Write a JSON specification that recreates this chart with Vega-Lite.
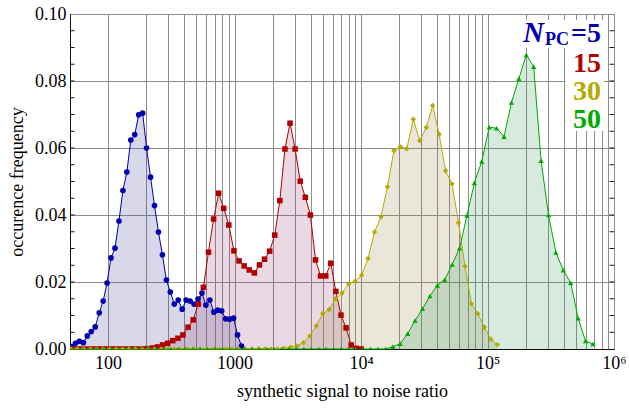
{
  "$schema": "https://vega.github.io/schema/vega-lite/v6.json",
  "width": 544,
  "height": 335,
  "autosize": {"type": "none"},
  "padding": {"left": 70, "top": 14, "right": 15, "bottom": 59},
  "background": "white",
  "config": {
    "view": {"stroke": "#111", "strokeWidth": 1},
    "font": "Liberation Serif"
  },
  "datasets": {
    "yticks": [{"t":0.005},{"t":0.01},{"t":0.015},{"t":0.02},{"t":0.025},{"t":0.03},{"t":0.035},{"t":0.04},{"t":0.045},{"t":0.05},{"t":0.055},{"t":0.06},{"t":0.065},{"t":0.07},{"t":0.075},{"t":0.08},{"t":0.085},{"t":0.09},{"t":0.095}]
  },
  "data": {"values": [
    {"s":"5","x":51.4,"y":0.0007},{"s":"5","x":55.2,"y":0.0017},{"s":"5","x":59.3,"y":0.0023},{"s":"5","x":63.8,"y":0.0019},
    {"s":"5","x":68.5,"y":0.0039},{"s":"5","x":73.6,"y":0.0052},{"s":"5","x":79.1,"y":0.0066},{"s":"5","x":85.1,"y":0.0108},
    {"s":"5","x":91.4,"y":0.0143},{"s":"5","x":98.2,"y":0.0197},{"s":"5","x":105.5,"y":0.0272},{"s":"5","x":113.4,"y":0.0301},
    {"s":"5","x":121.9,"y":0.0382},{"s":"5","x":131.0,"y":0.0473},{"s":"5","x":140.7,"y":0.0528},{"s":"5","x":151.2,"y":0.0624},
    {"s":"5","x":162.5,"y":0.0640},{"s":"5","x":174.6,"y":0.0699},{"s":"5","x":187.6,"y":0.0704},{"s":"5","x":201.6,"y":0.0600},
    {"s":"5","x":216.7,"y":0.0513},{"s":"5","x":232.9,"y":0.0428},{"s":"5","x":250.3,"y":0.0349},{"s":"5","x":268.9,"y":0.0281},
    {"s":"5","x":289.0,"y":0.0206},{"s":"5","x":310.6,"y":0.0170},{"s":"5","x":333.8,"y":0.0134},{"s":"5","x":358.6,"y":0.0146},
    {"s":"5","x":385.4,"y":0.0119},{"s":"5","x":414.2,"y":0.0146},{"s":"5","x":445.1,"y":0.0143},{"s":"5","x":478.2,"y":0.0134},
    {"s":"5","x":514.0,"y":0.0149},{"s":"5","x":552.3,"y":0.0167},{"s":"5","x":593.5,"y":0.0131},{"s":"5","x":637.8,"y":0.0146},
    {"s":"5","x":685.4,"y":0.0110},{"s":"5","x":736.5,"y":0.0116},{"s":"5","x":791.5,"y":0.0114},{"s":"5","x":850.5,"y":0.0090},
    {"s":"5","x":914.0,"y":0.0089},{"s":"5","x":982.0,"y":0.0092},{"s":"5","x":1055.3,"y":0.0042},{"s":"5","x":1134.1,"y":0.0009},

    {"s":"15","x":50.8,"y":0},{"s":"15","x":55.7,"y":0},{"s":"15","x":61.1,"y":0},{"s":"15","x":67.1,"y":0},
    {"s":"15","x":73.6,"y":0},{"s":"15","x":80.7,"y":0},{"s":"15","x":88.6,"y":0},{"s":"15","x":97.2,"y":0},
    {"s":"15","x":106.7,"y":0},{"s":"15","x":117.0,"y":0},{"s":"15","x":128.4,"y":0},{"s":"15","x":140.9,"y":0},
    {"s":"15","x":154.6,"y":0},{"s":"15","x":169.6,"y":0},{"s":"15","x":186.1,"y":0},{"s":"15","x":204.2,"y":0.0001},
    {"s":"15","x":224.1,"y":0.0003},{"s":"15","x":245.9,"y":0.0006},{"s":"15","x":269.8,"y":0.0012},{"s":"15","x":296.0,"y":0.0017},
    {"s":"15","x":324.8,"y":0.0025},{"s":"15","x":356.3,"y":0.0032},{"s":"15","x":391.0,"y":0.0042},{"s":"15","x":429.0,"y":0.0065},
    {"s":"15","x":470.7,"y":0.0087},{"s":"15","x":516.5,"y":0.0134},{"s":"15","x":566.7,"y":0.0184},{"s":"15","x":621.8,"y":0.0289},
    {"s":"15","x":682.3,"y":0.0388},{"s":"15","x":748.7,"y":0.0465},{"s":"15","x":821.5,"y":0.0420},{"s":"15","x":901.4,"y":0.0370},
    {"s":"15","x":989,"y":0.0293},{"s":"15","x":1085,"y":0.0263},{"s":"15","x":1191,"y":0.0248},{"s":"15","x":1307,"y":0.0236},
    {"s":"15","x":1434,"y":0.0227},{"s":"15","x":1573,"y":0.0251},{"s":"15","x":1726,"y":0.0268},{"s":"15","x":1894,"y":0.0292},
    {"s":"15","x":2078,"y":0.0340},{"s":"15","x":2280,"y":0.0443},{"s":"15","x":2502,"y":0.0597},{"s":"15","x":2745,"y":0.0674},
    {"s":"15","x":3012,"y":0.0597},{"s":"15","x":3305,"y":0.0501},{"s":"15","x":3626,"y":0.0453},{"s":"15","x":3979,"y":0.0400},
    {"s":"15","x":4365,"y":0.0266},{"s":"15","x":4790,"y":0.0218},{"s":"15","x":5255,"y":0.0218},{"s":"15","x":5767,"y":0.0256},
    {"s":"15","x":6327,"y":0.0172},{"s":"15","x":6942,"y":0.0101},{"s":"15","x":7618,"y":0.0063},{"s":"15","x":8358,"y":0.0012},
    {"s":"15","x":9171,"y":0.0002},{"s":"15","x":10062,"y":0},

    {"s":"30","x":50.7,"y":0},{"s":"30","x":57.0,"y":0},{"s":"30","x":64.1,"y":0},{"s":"30","x":72.1,"y":0},
    {"s":"30","x":81.1,"y":0},{"s":"30","x":91.2,"y":0},{"s":"30","x":102.6,"y":0},{"s":"30","x":115.5,"y":0},
    {"s":"30","x":129.9,"y":0},{"s":"30","x":146.1,"y":0},{"s":"30","x":164.3,"y":0},{"s":"30","x":184.9,"y":0},
    {"s":"30","x":207.9,"y":0},{"s":"30","x":233.9,"y":0},{"s":"30","x":263.1,"y":0},{"s":"30","x":296.0,"y":0},
    {"s":"30","x":332.9,"y":0},{"s":"30","x":374.5,"y":0},{"s":"30","x":421.2,"y":0},{"s":"30","x":473.8,"y":0},
    {"s":"30","x":533.0,"y":0},{"s":"30","x":599.6,"y":0},{"s":"30","x":674.4,"y":0},{"s":"30","x":758.6,"y":0},
    {"s":"30","x":853.3,"y":0},{"s":"30","x":959.8,"y":0},{"s":"30","x":1080,"y":0},{"s":"30","x":1214,"y":0},
    {"s":"30","x":1366,"y":0},{"s":"30","x":1537,"y":0},{"s":"30","x":1729,"y":0},{"s":"30","x":1944,"y":0},
    {"s":"30","x":2187,"y":0},{"s":"30","x":2460,"y":0.0002},
    {"s":"30","x":2768,"y":0.0005},{"s":"30","x":3113,"y":0.0009},{"s":"30","x":3502,"y":0.0019},{"s":"30","x":3939,"y":0.0039},
    {"s":"30","x":4431,"y":0.0069},{"s":"30","x":4984,"y":0.0106},{"s":"30","x":5607,"y":0.0118},{"s":"30","x":6307,"y":0.0150},
    {"s":"30","x":7094,"y":0.0167},{"s":"30","x":7980,"y":0.0195},{"s":"30","x":8977,"y":0.0202},{"s":"30","x":10097,"y":0.0220},
    {"s":"30","x":11358,"y":0.0270},{"s":"30","x":12776,"y":0.0349},{"s":"30","x":14372,"y":0.0395},{"s":"30","x":16166,"y":0.0484},
    {"s":"30","x":18185,"y":0.0592},{"s":"30","x":20456,"y":0.0604},{"s":"30","x":23011,"y":0.0598},{"s":"30","x":25882,"y":0.0686},
    {"s":"30","x":29114,"y":0.0622},{"s":"30","x":32749,"y":0.0661},{"s":"30","x":36838,"y":0.0727},{"s":"30","x":41438,"y":0.0641},
    {"s":"30","x":46613,"y":0.0532},{"s":"30","x":52433,"y":0.0493},{"s":"30","x":58980,"y":0.0377},{"s":"30","x":66345,"y":0.0247},
    {"s":"30","x":74628,"y":0.0135},{"s":"30","x":83946,"y":0.0105},{"s":"30","x":94430,"y":0.0065},{"s":"30","x":106220,"y":0.0029},
    {"s":"30","x":119480,"y":0.0013},

    {"s":"50","x":53.9,"y":0},{"s":"50","x":61.7,"y":0},{"s":"50","x":70.6,"y":0},{"s":"50","x":80.8,"y":0},
    {"s":"50","x":92.5,"y":0},{"s":"50","x":106,"y":0},{"s":"50","x":121,"y":0},{"s":"50","x":139,"y":0},
    {"s":"50","x":159,"y":0},{"s":"50","x":182,"y":0},{"s":"50","x":208,"y":0},{"s":"50","x":238,"y":0},
    {"s":"50","x":272,"y":0},{"s":"50","x":312,"y":0},{"s":"50","x":357,"y":0},{"s":"50","x":408,"y":0},
    {"s":"50","x":467,"y":0},{"s":"50","x":535,"y":0},{"s":"50","x":612,"y":0},{"s":"50","x":700,"y":0},
    {"s":"50","x":801,"y":0},{"s":"50","x":917,"y":0},{"s":"50","x":1050,"y":0},{"s":"50","x":1201,"y":0},
    {"s":"50","x":1375,"y":0},{"s":"50","x":1573,"y":0},{"s":"50","x":1800,"y":0},{"s":"50","x":2061,"y":0},
    {"s":"50","x":2358,"y":0},{"s":"50","x":2699,"y":0},{"s":"50","x":3089,"y":0},{"s":"50","x":3535,"y":0},
    {"s":"50","x":4046,"y":0},{"s":"50","x":4630,"y":0},{"s":"50","x":5299,"y":0},{"s":"50","x":6064,"y":0},
    {"s":"50","x":6940,"y":0},{"s":"50","x":7943,"y":0},{"s":"50","x":9090,"y":0},{"s":"50","x":10404,"y":0},
    {"s":"50","x":11907,"y":0},{"s":"50","x":13627,"y":0},{"s":"50","x":15596,"y":0},
    {"s":"50","x":17850,"y":0.0007},{"s":"50","x":20425,"y":0.0016},{"s":"50","x":23380,"y":0.0046},{"s":"50","x":26755,"y":0.0085},
    {"s":"50","x":30620,"y":0.0120},{"s":"50","x":35040,"y":0.0158},{"s":"50","x":40101,"y":0.0190},{"s":"50","x":45890,"y":0.0207},
    {"s":"50","x":52529,"y":0.0252},{"s":"50","x":60117,"y":0.0301},{"s":"50","x":68803,"y":0.0399},{"s":"50","x":78741,"y":0.0496},
    {"s":"50","x":90116,"y":0.0560},{"s":"50","x":103130,"y":0.0662},{"s":"50","x":118030,"y":0.0659},{"s":"50","x":135080,"y":0.0634},
    {"s":"50","x":154590,"y":0.0736},{"s":"50","x":176920,"y":0.0807},{"s":"50","x":202480,"y":0.0878},{"s":"50","x":231740,"y":0.0843},
    {"s":"50","x":265210,"y":0.0562},{"s":"50","x":303520,"y":0.0400},{"s":"50","x":347350,"y":0.0288},{"s":"50","x":397560,"y":0.0235},
    {"s":"50","x":454990,"y":0.0197},{"s":"50","x":520720,"y":0.0092},{"s":"50","x":595950,"y":0.0024},{"s":"50","x":682020,"y":0.0015}
  ]},
  "layer": [
    {
      "mark": {"type": "area", "fillOpacity": 0.2},
      "encoding": {
        "x": {"field": "x", "type": "quantitative", "scale": {"type": "log", "domain": [50, 1000000], "nice": false},
          "axis": {
            "values": [100,200,300,400,500,600,700,800,900,1000,2000,3000,4000,5000,6000,7000,8000,9000,10000,20000,30000,40000,50000,60000,70000,80000,90000,100000,200000,300000,400000,500000,600000,700000,800000,900000,1000000],
            "labelExpr": "datum.value == 100 ? '100' : datum.value == 1000 ? '1000' : datum.value == 10000 ? '10⁴' : datum.value == 100000 ? '10⁵' : datum.value == 1000000 ? '10⁶' : ''",
            "labelFlush": false, "labelOverlap": false, "labelFont": "Liberation Serif", "labelFontSize": 18, "labelColor": "#000", "labelPadding": 5,
            "ticks": false, "domain": true, "domainColor": "#111", "grid": true, "gridColor": "#8c8c8c", "gridWidth": 1,
            "title": "synthetic signal to noise ratio", "titleFont": "Liberation Serif", "titleFontSize": 18, "titleFontWeight": "normal", "titleColor": "#000", "titlePadding": 10
          }},
        "y": {"field": "y", "type": "quantitative", "stack": null, "scale": {"domain": [0, 0.1], "nice": false},
          "axis": {
            "orient": "left",
            "values": [0,0.02,0.04,0.06,0.08,0.1],
            "format": ".2f",
            "labelOverlap": false, "labelFont": "Liberation Serif", "labelFontSize": 18, "labelColor": "#000", "labelPadding": 4,
            "grid": true, "gridColor": "#8c8c8c", "gridWidth": 1,
            "ticks": false, "domain": true, "domainColor": "#111",
            "title": "occurence frequency", "titleFont": "Liberation Serif", "titleFontSize": 18, "titleFontWeight": "normal", "titleColor": "#000", "titlePadding": 8
          }},
        "fill": {"field": "s", "type": "nominal", "legend": null,
          "scale": {"domain": ["5","15","30","50"], "range": ["#3C3C96","#963C6E","#968246","#32965A"]}}
      }
    },
    {
      "mark": {"type": "line", "strokeWidth": 1},
      "encoding": {
        "x": {"field": "x", "type": "quantitative", "scale": {"type": "log", "domain": [50, 1000000], "nice": false}},
        "y": {"field": "y", "type": "quantitative", "scale": {"domain": [0, 0.1], "nice": false}},
        "stroke": {"field": "s", "type": "nominal", "legend": null,
          "scale": {"domain": ["5","15","30","50"], "range": ["#0000B0","#B00000","#B4AA00","#00AA00"]}}
      }
    },
    {
      "mark": {"type": "point", "filled": true, "opacity": 1, "clip": true},
      "encoding": {
        "x": {"field": "x", "type": "quantitative", "scale": {"type": "log", "domain": [50, 1000000], "nice": false}},
        "y": {"field": "y", "type": "quantitative", "scale": {"domain": [0, 0.1], "nice": false}},
        "color": {"field": "s", "type": "nominal", "legend": null,
          "scale": {"domain": ["5","15","30","50"], "range": ["#0000B0","#B00000","#B4AA00","#00AA00"]}},
        "shape": {"field": "s", "type": "nominal", "legend": null,
          "scale": {"domain": ["5","15","30","50"], "range": ["circle","square","diamond","triangle-up"]}},
        "size": {"field": "s", "type": "nominal", "legend": null,
          "scale": {"domain": ["5","15","30","50"], "range": [32, 28, 44, 32]}}
      }
    },
    {
      "data": {"name": "yticks"},
      "mark": {"type": "tick", "orient": "horizontal", "size": 9, "thickness": 1, "color": "#111", "clip": true, "opacity": 1},
      "encoding": {
        "x": {"datum": 50, "type": "quantitative", "scale": {"type": "log", "domain": [50, 1000000], "nice": false}},
        "y": {"field": "t", "type": "quantitative", "scale": {"domain": [0, 0.1], "nice": false}}
      }
    },
    {
      "data": {"name": "yticks"},
      "mark": {"type": "tick", "orient": "horizontal", "size": 9, "thickness": 1, "color": "#111", "clip": true, "opacity": 1},
      "encoding": {
        "x": {"datum": 1000000, "type": "quantitative", "scale": {"type": "log", "domain": [50, 1000000], "nice": false}},
        "y": {"field": "t", "type": "quantitative", "scale": {"domain": [0, 0.1], "nice": false}}
      }
    },
    {
      "data": {"values": [{}]},
      "mark": {"type": "rect", "fill": "white"},
      "encoding": {
        "x": {"datum": 166900, "type": "quantitative", "scale": {"type": "log", "domain": [50, 1000000], "nice": false}},
        "x2": {"datum": 833000},
        "y": {"datum": 0.0982, "type": "quantitative", "scale": {"domain": [0, 0.1], "nice": false}},
        "y2": {"datum": 0.0899}
      }
    },
    {
      "data": {"values": [{}]},
      "mark": {"type": "rect", "fill": "white"},
      "encoding": {
        "x": {"datum": 415900, "type": "quantitative", "scale": {"type": "log", "domain": [50, 1000000], "nice": false}},
        "x2": {"datum": 833000},
        "y": {"datum": 0.0899, "type": "quantitative", "scale": {"domain": [0, 0.1], "nice": false}},
        "y2": {"datum": 0.0651}
      }
    },
    {
      "data": {"values": [{}]},
      "mark": {"type": "text", "text": "N", "align": "right", "baseline": "alphabetic", "font": "Liberation Serif", "fontSize": 29, "fontWeight": "bold", "fontStyle": "italic", "color": "#0000B0"},
      "encoding": {
        "x": {"datum": 280000, "type": "quantitative", "scale": {"type": "log", "domain": [50, 1000000], "nice": false}},
        "y": {"datum": 0.09164, "type": "quantitative", "scale": {"domain": [0, 0.1], "nice": false}}
      }
    },
    {
      "data": {"values": [{}]},
      "mark": {"type": "text", "text": "PC", "align": "right", "baseline": "alphabetic", "font": "Liberation Serif", "fontSize": 18, "fontWeight": "bold", "color": "#0000B0"},
      "encoding": {
        "x": {"datum": 441000, "type": "quantitative", "scale": {"type": "log", "domain": [50, 1000000], "nice": false}},
        "y": {"datum": 0.0906, "type": "quantitative", "scale": {"domain": [0, 0.1], "nice": false}}
      }
    },
    {
      "data": {"values": [{}]},
      "mark": {"type": "text", "text": "=5", "align": "right", "baseline": "alphabetic", "font": "Liberation Serif", "fontSize": 28, "fontWeight": "bold", "color": "#0000B0"},
      "encoding": {
        "x": {"datum": 788600, "type": "quantitative", "scale": {"type": "log", "domain": [50, 1000000], "nice": false}},
        "y": {"datum": 0.09164, "type": "quantitative", "scale": {"domain": [0, 0.1], "nice": false}}
      }
    },
    {
      "data": {"values": [{}]},
      "mark": {"type": "text", "text": "15", "align": "right", "baseline": "alphabetic", "font": "Liberation Serif", "fontSize": 28, "fontWeight": "bold", "color": "#B00000"},
      "encoding": {
        "x": {"datum": 788600, "type": "quantitative", "scale": {"type": "log", "domain": [50, 1000000], "nice": false}},
        "y": {"datum": 0.08269, "type": "quantitative", "scale": {"domain": [0, 0.1], "nice": false}}
      }
    },
    {
      "data": {"values": [{}]},
      "mark": {"type": "text", "text": "30", "align": "right", "baseline": "alphabetic", "font": "Liberation Serif", "fontSize": 28, "fontWeight": "bold", "color": "#B4AA00"},
      "encoding": {
        "x": {"datum": 788600, "type": "quantitative", "scale": {"type": "log", "domain": [50, 1000000], "nice": false}},
        "y": {"datum": 0.07433, "type": "quantitative", "scale": {"domain": [0, 0.1], "nice": false}}
      }
    },
    {
      "data": {"values": [{}]},
      "mark": {"type": "text", "text": "50", "align": "right", "baseline": "alphabetic", "font": "Liberation Serif", "fontSize": 28, "fontWeight": "bold", "color": "#00AA00"},
      "encoding": {
        "x": {"datum": 788600, "type": "quantitative", "scale": {"type": "log", "domain": [50, 1000000], "nice": false}},
        "y": {"datum": 0.06597, "type": "quantitative", "scale": {"domain": [0, 0.1], "nice": false}}
      }
    }
  ]
}
